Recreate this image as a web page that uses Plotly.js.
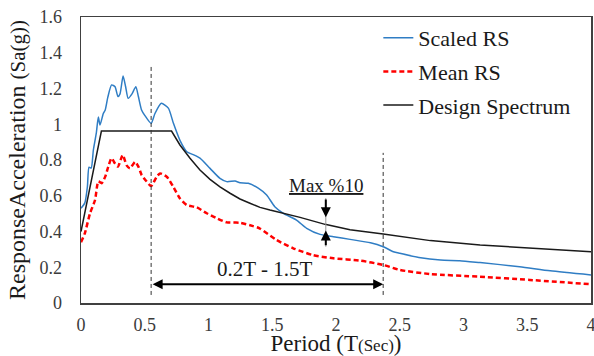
<!DOCTYPE html>
<html>
<head>
<meta charset="utf-8">
<script src="https://cdn.plot.ly/plotly-3.0.1.min.js"></script>
<style>html,body{margin:0;padding:0;background:#fff;}#chart{width:594px;height:356px;}</style>
</head>
<body>
<div id="chart"></div>
<script>
// Scaled RS
const scaledX = [0,0.03,0.05,0.063,0.08,0.097,0.12,0.136,0.149,0.175,0.19,0.21,0.24,0.267,0.29,0.306,0.33,0.35,0.37,0.40,0.43,0.45,0.475,0.50,0.55,0.58,0.63,0.685,0.725,0.776,0.83,0.88,0.933,1.012,1.09,1.143,1.208,1.247,1.312,1.39,1.456,1.52,1.587,1.69,1.77,1.875,1.98,2.11,2.27,2.37,2.45,2.50,2.65,2.82,2.97,3.13,3.44,3.68,4.0];
const scaledY = [0.53,0.56,0.65,0.76,0.755,0.856,0.95,1.04,0.996,1.06,1.08,1.15,1.22,1.21,1.155,1.17,1.27,1.21,1.145,1.17,1.21,1.155,1.08,1.05,1.005,1.06,1.117,1.09,1.005,0.91,0.846,0.83,0.81,0.753,0.697,0.679,0.682,0.673,0.67,0.642,0.604,0.539,0.502,0.464,0.418,0.384,0.371,0.356,0.337,0.315,0.287,0.278,0.255,0.24,0.237,0.226,0.203,0.18,0.157];
// Mean RS
const meanX = [0,0.03,0.07,0.11,0.136,0.162,0.19,0.214,0.24,0.267,0.29,0.327,0.358,0.384,0.424,0.45,0.476,0.515,0.55,0.594,0.62,0.672,0.724,0.776,0.83,0.907,0.986,1.064,1.143,1.247,1.35,1.40,1.535,1.665,1.82,1.98,2.19,2.37,2.50,2.74,3.13,3.52,4.0];
const meanY = [0.34,0.39,0.50,0.576,0.68,0.67,0.707,0.763,0.81,0.78,0.763,0.828,0.77,0.753,0.79,0.763,0.716,0.68,0.654,0.707,0.725,0.707,0.65,0.585,0.548,0.535,0.502,0.474,0.451,0.449,0.43,0.418,0.352,0.306,0.268,0.25,0.237,0.213,0.185,0.162,0.147,0.129,0.105];
// Design Spectrum
const designX = [0,0.16,0.71,0.776,0.855,0.933,1.012,1.09,1.169,1.247,1.325,1.404,1.482,1.574,1.718,1.914,2.11,2.37,2.74,3.13,3.52,4.0];
const designY = [0.40,0.962,0.962,0.884,0.81,0.744,0.692,0.65,0.614,0.582,0.558,0.535,0.52,0.505,0.479,0.44,0.41,0.386,0.349,0.324,0.306,0.287];

const seriesNames = ['Scaled RS','Mean RS','Design Spectrum'];
const xTicks = [0,0.5,1,1.5,2,2.5,3,3.5,4];
const xTickText = ['0','0.5','1','1.5','2','2.5','3','3.5','4'];
const yTicks = [0,0.2,0.4,0.6,0.8,1,1.2,1.4,1.6];
const yTickText = ['0','0.2','0.4','0.6','0.8','1','1.2','1.4','1.6'];

// annotation markers
const rangeStart = 0.55, rangeEnd = 2.37;
const checkT = 1.92;

const FONT = 'Liberation Serif';

const traces = [
  {x: scaledX, y: scaledY, name: seriesNames[0], mode:'lines', line:{color:'#2F7DC4', width:1.5, shape:'spline', smoothing:0.6}, legendgroup:'a'},
  {x: meanX, y: meanY, name: seriesNames[1], mode:'lines', line:{color:'#FF0000', width:2.5, dash:'5px,3px', shape:'spline', smoothing:0.6}, legendgroup:'b'},
  {x: designX, y: designY, name: seriesNames[2], mode:'lines', line:{color:'#1a1a1a', width:1.5}, legendgroup:'c'}
];

const layout = {
  width:594, height:356,
  margin:{l:81, r:3, t:17, b:53},
  paper_bgcolor:'#fff', plot_bgcolor:'#fff',
  font:{family:FONT, color:'#333'},
  showlegend:true,
  legend:{x:0.583, y:1.0, xanchor:'left', yanchor:'top', font:{family:FONT, size:22, color:'#1a1a1a'}, bgcolor:'rgba(0,0,0,0)', tracegroupgap:2},
  xaxis:{range:[0,4], tickvals:xTicks, ticktext:xTickText, showgrid:false, zeroline:false, showline:true, mirror:true, linecolor:'#404040', linewidth:1.5, ticks:'', ticklabelstandoff:5, ticklabeloverflow:'allow', tickfont:{family:FONT, size:18, color:'#3b3b3b'},
    title:{text:'Period (T<span style="font-size:17px">(Sec)</span>)', font:{family:FONT, size:23, color:'#1a1a1a'}, standoff:5}},
  yaxis:{range:[0,1.6], tickvals:yTicks, ticktext:yTickText, showgrid:false, zeroline:false, showline:true, mirror:true, linecolor:'#404040', linewidth:1.5, ticks:'', ticklabelstandoff:14, tickfont:{family:FONT, size:18, color:'#3b3b3b'},
    title:{text:'ResponseAcceleration <span style="font-size:21px">(Sa(g))</span>', font:{family:FONT, size:24, color:'#1a1a1a'}, standoff:7}},
  shapes:[
    {type:'line', xref:'x', yref:'y', x0:rangeStart, x1:rangeStart, y0:0.045, y1:1.33, line:{color:'#333', width:1, dash:'4px,3px'}},
    {type:'line', xref:'x', yref:'y', x0:rangeEnd, x1:rangeEnd, y0:0.045, y1:0.84, line:{color:'#333', width:1, dash:'4px,3px'}},
    {type:'line', xref:'x', yref:'y', x0:checkT, x1:checkT, y0:0.315, y1:0.587, line:{color:'#999', width:1}}
  ],
  annotations:[
    {x:rangeEnd, y:0.105, ax:rangeStart, ay:0.105, axref:'x', ayref:'y', xref:'x', yref:'y', text:'', showarrow:true, arrowhead:2, arrowside:'end+start', arrowsize:1, arrowwidth:2, arrowcolor:'#000'},
    {x:1.44, y:0.19, xref:'x', yref:'y', text:'0.2T - 1.5T', showarrow:false, font:{family:FONT, size:21, color:'#1a1a1a'}},
    {x:checkT, y:0.655, xref:'x', yref:'y', text:'<u>Max %10</u>', showarrow:false, font:{family:FONT, size:19, color:'#1a1a1a'}},
    {x:checkT, y:0.48, ax:checkT, ay:0.587, axref:'x', ayref:'y', xref:'x', yref:'y', text:'', showarrow:true, arrowhead:2, arrowsize:1, arrowwidth:2, arrowcolor:'#000'},
    {x:checkT, y:0.405, ax:checkT, ay:0.315, axref:'x', ayref:'y', xref:'x', yref:'y', text:'', showarrow:true, arrowhead:2, arrowsize:1, arrowwidth:2, arrowcolor:'#000'}
  ]
};

Plotly.newPlot('chart', traces, layout, {displayModeBar:false, staticPlot:true});
</script>
</body>
</html>
